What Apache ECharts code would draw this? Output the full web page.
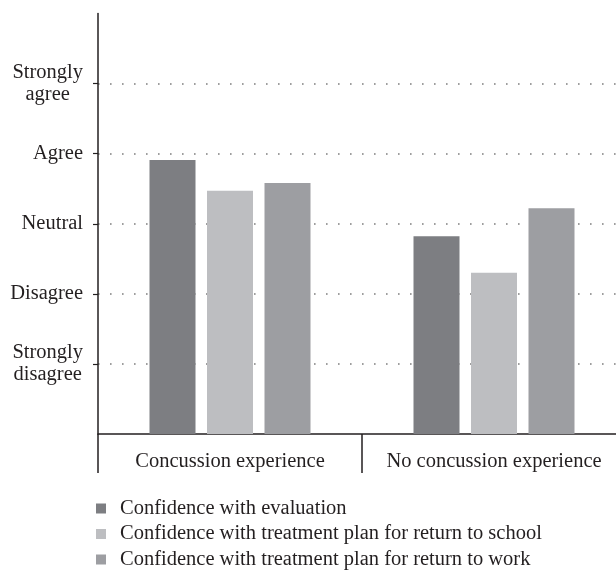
<!DOCTYPE html>
<html>
<head>
<meta charset="utf-8">
<script src="https://cdn.jsdelivr.net/npm/echarts@6/dist/echarts.min.js"></script>
<style>
html,body{margin:0;padding:0;background:#fff;}
#chart{width:616px;height:571px;}
</style>
</head>
<body>
<div id="chart"></div>
<script>
var categories = ['Concussion experience', 'No concussion experience'];
var seriesNames = [
  'Confidence with evaluation',
  'Confidence with treatment plan for return to school',
  'Confidence with treatment plan for return to work'
];
var evaluation = [3.91, 2.82];
var returnSchool = [3.47, 2.30];
var returnWork = [3.58, 3.22];
var yTickLabels = {1: 'Strongly\ndisagree', 2: 'Disagree', 3: 'Neutral', 4: 'Agree', 5: 'Strongly\nagree'};
var colors = ['#7d7e82', '#bdbec1', '#9d9ea2'];

var FONT = 'Liberation Serif';
var FS = 20.5;
var TXT = '#231f20';

var chart = echarts.init(document.getElementById('chart'), null, {renderer: 'canvas'});
var values = [evaluation, returnSchool, returnWork];
var series = seriesNames.map(function (n, i) {
  return {
    name: n,
    type: 'bar',
    data: values[i],
    barWidth: 46,
    barGap: '25%',
    itemStyle: {color: colors[i]}
  };
});

chart.setOption({
  animation: false,
  backgroundColor: '#fff',
  color: colors,
  textStyle: {fontFamily: FONT, color: TXT},
  grid: {left: 98, top: 13.5, width: 528, bottom: 137, containLabel: false, outerBoundsMode: 'none'},
  legend: {
    orient: 'vertical',
    left: 91,
    top: 493,
    height: 90,
    itemWidth: 10,
    itemHeight: 10,
    itemGap: 4.5,
    icon: 'rect',
    data: seriesNames,
    textStyle: {fontFamily: FONT, fontSize: FS, color: TXT, padding: [0, 0, 0, 9]}
  },
  xAxis: {
    type: 'category',
    data: categories,
    axisLine: {lineStyle: {color: '#231f20', width: 1.5}},
    axisTick: {show: true, interval: 0, length: 39, lineStyle: {color: '#231f20', width: 1.5}},
    axisLabel: {interval: 0, hideOverlap: false, fontFamily: FONT, fontSize: FS, color: TXT, margin: 17}
  },
  yAxis: {
    type: 'value',
    min: 0,
    max: 6,
    interval: 1,
    axisLine: {show: true, lineStyle: {color: '#231f20', width: 1.5}},
    axisTick: {show: true, length: 5, customValues: [1, 2, 3, 4, 5], lineStyle: {color: '#231f20', width: 1.2}},
    axisLabel: {
      margin: 15,
      customValues: [1, 2, 3, 4, 5],
      formatter: function (v) {
        var t = yTickLabels[v];
        if (!t) return '';
        return t.split('\n').map(function (s) { return '{a|' + s + '}'; }).join('\n');
      },
      rich: {a: {fontFamily: FONT, fontSize: FS, color: TXT, align: 'center', lineHeight: 22}}
    },
    splitLine: {show: true, lineStyle: {color: '#7f7f7f', width: 1.6, type: [1.6, 10.4]}}
  },
  series: series
});
</script>
</body>
</html>
